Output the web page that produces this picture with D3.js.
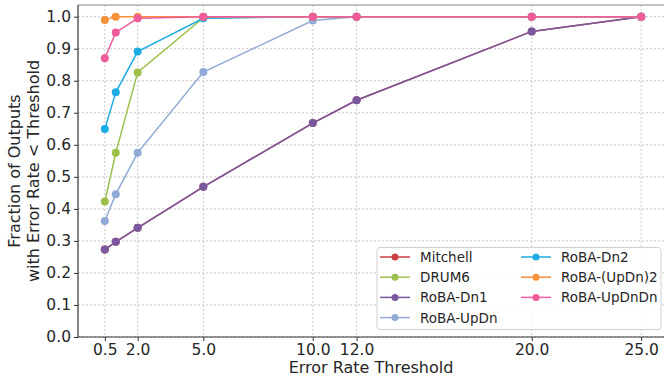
<!DOCTYPE html>
<html>
<head>
<meta charset="utf-8">
<script src="https://cdn.jsdelivr.net/npm/d3@7"></script>
<style>
  body { margin: 0; background: #fff; }
  svg { display: block; font-family: "DejaVu Sans", sans-serif; }
</style>
</head>
<body>
<div id="chart"></div>
<script>
// data
const thresholds = [0.5, 1, 2, 5, 10, 12, 20, 25];
const xTickValues = [0.5, 2, 5, 10, 12, 20, 25];
const yTickValues = [0, 0.1, 0.2, 0.3, 0.4, 0.5, 0.6, 0.7, 0.8, 0.9, 1.0];

const mitchell = [0.273, 0.297, 0.341, 0.469, 0.668, 0.739, 0.954, 1];
const drum6 = [0.423, 0.575, 0.826, 0.997, 1, 1, 1, 1];
const robaDn1 = [0.273, 0.297, 0.341, 0.469, 0.668, 0.739, 0.954, 1];
const robaUpDn = [0.362, 0.446, 0.575, 0.827, 0.988, 1, 1, 1];
const robaDn2 = [0.649, 0.764, 0.891, 0.995, 1, 1, 1, 1];
const robaUpDn2 = [0.990, 1, 1, 1, 1, 1, 1, 1];
const robaUpDnDn = [0.870, 0.951, 0.995, 1, 1, 1, 1, 1];

const seriesNames = ["Mitchell", "DRUM6", "RoBA-Dn1", "RoBA-UpDn", "RoBA-Dn2", "RoBA-(UpDn)2", "RoBA-UpDnDn"];
const seriesColors = ["#c94040", "#9cc14b", "#7a58a0", "#90a9d6", "#1eabe3", "#f7923a", "#f05b9c"];
const seriesValues = [mitchell, drum6, robaDn1, robaUpDn, robaDn2, robaUpDn2, robaUpDnDn];

//////////CODE//////////
const svgObj = { width: 664, height: 379 };
const plot = { left: 78, top: 5, right: 668, bottom: 337 };

const svg = d3
  .select("#chart")
  .append("svg")
  .attr("width", svgObj.width)
  .attr("height", svgObj.height);

const x = d3.scaleLinear().domain([-0.725, 26.225]).range([plot.left, plot.right]);
const y = d3.scaleLinear().domain([0, 1.0365]).range([plot.bottom, plot.top]);

// grid
const grid = svg.append("g");
xTickValues.forEach((t) => {
  grid
    .append("line")
    .attr("x1", x(t))
    .attr("x2", x(t))
    .attr("y1", plot.top)
    .attr("y2", plot.bottom)
    .attr("stroke", "#c8c8c8")
    .attr("stroke-width", 1)
    .attr("stroke-dasharray", "2,2");
});
yTickValues.forEach((t) => {
  grid
    .append("line")
    .attr("x1", plot.left)
    .attr("x2", plot.right)
    .attr("y1", y(t))
    .attr("y2", y(t))
    .attr("stroke", "#c8c8c8")
    .attr("stroke-width", 1)
    .attr("stroke-dasharray", "2,2");
});

// axes
const xAxis = svg
  .append("g")
  .attr("transform", `translate(0, ${plot.bottom})`)
  .call(
    d3.axisBottom(x).tickValues(xTickValues).tickFormat(d3.format(".1f")).tickSize(4).tickPadding(3)
  );
const yAxis = svg
  .append("g")
  .attr("transform", `translate(${plot.left}, 0)`)
  .call(
    d3.axisLeft(y).tickValues(yTickValues).tickFormat(d3.format(".1f")).tickSize(4).tickPadding(3)
  );
[xAxis, yAxis].forEach((a) => {
  a.selectAll("text").attr("font-size", 15.5).attr("fill", "#262626").attr("font-family", "DejaVu Sans");
  a.selectAll("line").attr("stroke", "#333");
  a.select(".domain").remove();
});

// spines
svg.append("line")
  .attr("x1", plot.left).attr("x2", plot.right)
  .attr("y1", plot.top).attr("y2", plot.top)
  .attr("stroke", "#888").attr("stroke-width", 1.2);
svg.append("line")
  .attr("x1", plot.left).attr("x2", plot.right)
  .attr("y1", plot.bottom).attr("y2", plot.bottom)
  .attr("stroke", "#333").attr("stroke-width", 1.2);
svg.append("line")
  .attr("x1", plot.left).attr("x2", plot.left)
  .attr("y1", plot.top).attr("y2", plot.bottom)
  .attr("stroke", "#333").attr("stroke-width", 1.2);

// lines and markers
const line = d3
  .line()
  .x((d, i) => x(thresholds[i]))
  .y((d) => y(d));

seriesValues.forEach((vals, s) => {
  const g = svg.append("g");
  g.append("path")
    .attr("d", line(vals))
    .attr("fill", "none")
    .attr("stroke", seriesColors[s])
    .attr("stroke-width", 1.5);
  g.selectAll("circle")
    .data(vals)
    .join("circle")
    .attr("cx", (d, i) => x(thresholds[i]))
    .attr("cy", (d) => y(d))
    .attr("r", 4)
    .attr("fill", seriesColors[s]);
});

// axis labels
svg.append("text")
  .attr("x", (plot.left + 664) / 2)
  .attr("y", 373)
  .attr("text-anchor", "middle")
  .attr("font-size", 16)
  .attr("fill", "#262626")
  .text("Error Rate Threshold");

const yLabel = svg.append("text")
  .attr("transform", `translate(23, ${(plot.top + plot.bottom) / 2}) rotate(-90)`)
  .attr("text-anchor", "middle")
  .attr("font-size", 16)
  .attr("fill", "#262626");
yLabel.append("tspan").attr("x", 0).attr("dy", -3).text("Fraction of Outputs");
yLabel.append("tspan").attr("x", 0).attr("dy", 19).text("with Error Rate < Threshold");

// legend
const legendObj = { x: 377, y: 247.5, width: 284, height: 82, rowH: 20.2 };
const legend = svg.append("g").attr("transform", `translate(${legendObj.x}, ${legendObj.y})`);
legend.append("rect")
  .attr("width", legendObj.width)
  .attr("height", legendObj.height)
  .attr("rx", 3)
  .attr("fill", "white")
  .attr("fill-opacity", 0.85)
  .attr("stroke", "#d0d0d0");

seriesNames.forEach((name, i) => {
  const col = i < 4 ? 0 : 1;
  const row = i < 4 ? i : i - 4;
  const lx = col === 0 ? 3 : 144;
  const ly = 9.5 + row * legendObj.rowH;
  legend.append("line")
    .attr("x1", lx).attr("x2", lx + 30)
    .attr("y1", ly).attr("y2", ly)
    .attr("stroke", seriesColors[i])
    .attr("stroke-width", 1.5);
  legend.append("circle")
    .attr("cx", lx + 15).attr("cy", ly).attr("r", 3.5)
    .attr("fill", seriesColors[i]);
  legend.append("text")
    .attr("x", lx + 40).attr("y", ly)
    .attr("dominant-baseline", "central")
    .attr("font-size", 13.5)
    .attr("fill", "#262626")
    .text(name);
});
</script>
</body>
</html>
